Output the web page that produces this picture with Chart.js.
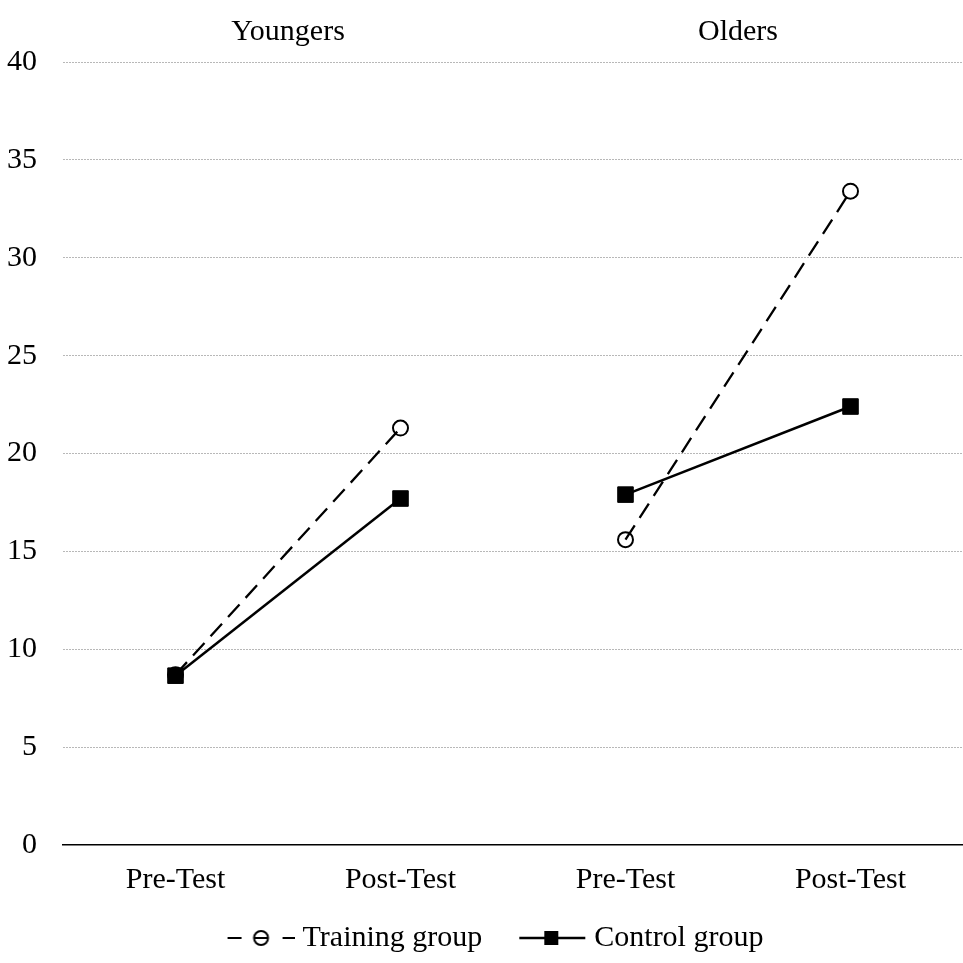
<!DOCTYPE html>
<html>
<head>
<meta charset="utf-8">
<script src="https://cdn.jsdelivr.net/npm/chart.js@4.4.1/dist/chart.umd.min.js"></script>
<style>
  html, body { margin: 0; padding: 0; background: #fff; overflow: hidden; }
  canvas { display: block; }
</style>
</head>
<body>
<canvas id="c" width="963" height="963" style="width:963px;height:963px"></canvas>
<script>
// ---- data ----
const categories = ['Pre-Test', 'Post-Test', 'Pre-Test', 'Post-Test'];
const groups = ['Youngers', 'Olders'];
const seriesNames = ['Training group', 'Control group'];
const trainingValues = [8.7, 21.3, 15.6, 33.4];
const controlValues = [8.65, 17.7, 17.9, 22.4];
const yTicks = [0, 5, 10, 15, 20, 25, 30, 35, 40];

const FONT = "'Liberation Serif', 'Times New Roman', serif";
const FS = 30;

// legend symbols (blank area on the left, symbol on the right 67px)
const SYM_W = 102, SYM_O = 35;
function makeTrainingSymbol() {
  const c = document.createElement('canvas');
  c.width = SYM_W; c.height = 20;
  const g = c.getContext('2d');
  const o = SYM_O;
  g.strokeStyle = '#000'; g.lineWidth = 2;
  g.beginPath(); g.moveTo(o + 0, 10); g.lineTo(o + 14, 10); g.stroke();
  g.beginPath(); g.moveTo(o + 55, 10); g.lineTo(o + 67, 10); g.stroke();
  g.beginPath(); g.arc(o + 33.5, 10, 7, 0, Math.PI * 2); g.stroke();
  g.beginPath(); g.moveTo(o + 26.5, 10); g.lineTo(o + 40.5, 10); g.stroke();
  return c;
}
function makeControlSymbol() {
  const c = document.createElement('canvas');
  c.width = SYM_W; c.height = 20;
  const g = c.getContext('2d');
  const o = SYM_O;
  g.strokeStyle = '#000'; g.lineWidth = 2.5;
  g.beginPath(); g.moveTo(o + 0, 10); g.lineTo(o + 66, 10); g.stroke();
  g.fillStyle = '#000';
  g.fillRect(o + 25, 3, 14, 14);
  return c;
}
const symTraining = makeTrainingSymbol();
const symControl = makeControlSymbol();

const gapSegment = (color) => (ctx) => (ctx.p0DataIndex === 1 ? 'rgba(0,0,0,0)' : color);
const noSidePadding = (s) => { s.paddingLeft = 0; s.paddingRight = 0; };

new Chart(document.getElementById('c'), {
  type: 'line',
  data: {
    labels: categories,
    datasets: [
      {
        label: seriesNames[0],
        data: trainingValues,
        borderColor: '#000',
        borderWidth: 2.3,
        borderDash: [17, 9],
        pointStyle: 'circle',
        pointRadius: 7.5,
        pointBorderWidth: 2,
        pointBorderColor: '#000',
        pointBackgroundColor: 'rgba(0,0,0,0)',
        backgroundColor: 'rgba(0,0,0,0)',
        fill: false,
        tension: 0,
        order: 2,
        segment: { borderColor: gapSegment('#000') }
      },
      {
        label: seriesNames[1],
        data: controlValues,
        borderColor: '#000',
        borderWidth: 2.5,
        pointStyle: 'rect',
        pointRadius: 11,
        pointBorderWidth: 1,
        pointBorderColor: '#000',
        pointBackgroundColor: '#000',
        backgroundColor: '#000',
        fill: false,
        tension: 0,
        order: 1,
        segment: { borderColor: gapSegment('#000') }
      }
    ]
  },
  options: {
    responsive: false,
    maintainAspectRatio: false,
    devicePixelRatio: 1,
    animation: false,
    layout: { padding: 0, autoPadding: false },
    plugins: {
      tooltip: { enabled: false },
      title: { display: false },
      legend: {
        display: true,
        position: 'bottom',
        align: 'center',
        labels: {
          usePointStyle: true,
          pointStyleWidth: 88,
          padding: 9,
          color: '#000',
          font: { family: FONT, size: FS },
          generateLabels: () => [
            { text: seriesNames[0], pointStyle: symTraining, fillStyle: '#000', strokeStyle: '#000', lineWidth: 0, hidden: false, datasetIndex: 0, fontColor: '#000' },
            { text: seriesNames[1], pointStyle: symControl, fillStyle: '#000', strokeStyle: '#000', lineWidth: 0, hidden: false, datasetIndex: 1, fontColor: '#000' }
          ]
        }
      }
    },
    scales: {
      x: {
        type: 'category',
        position: 'bottom',
        offset: true,
        grid: { display: false, drawTicks: false },
        border: { display: true, color: '#000', width: 1.5 },
        ticks: { color: '#000', font: { family: FONT, size: FS }, padding: 17.5, maxRotation: 0, autoSkip: false },
        afterFit: (s) => { s.height = 69; noSidePadding(s); }
      },
      x2: {
        type: 'category',
        position: 'top',
        labels: groups,
        offset: true,
        grid: { display: false, drawTicks: false },
        border: { display: false },
        ticks: { color: '#000', font: { family: FONT, size: FS }, padding: 12, maxRotation: 0, autoSkip: false },
        afterFit: (s) => { s.height = 62; noSidePadding(s); }
      },
      y: {
        min: 0,
        max: 40,
        afterBuildTicks: (s) => { s.ticks = yTicks.map(v => ({ value: v })); },
        grid: {
          drawTicks: false,
          color: (ctx) => (ctx.tick && ctx.tick.value === 0 ? 'rgba(0,0,0,0)' : '#b8b8b8'),
          lineWidth: 1
        },
        border: { display: false, dash: [2, 1] },
        ticks: { color: '#000', font: { family: FONT, size: FS }, padding: 26 },
        afterFit: (s) => { s.width = 63; }
      }
    }
  }
});
</script>
</body>
</html>
